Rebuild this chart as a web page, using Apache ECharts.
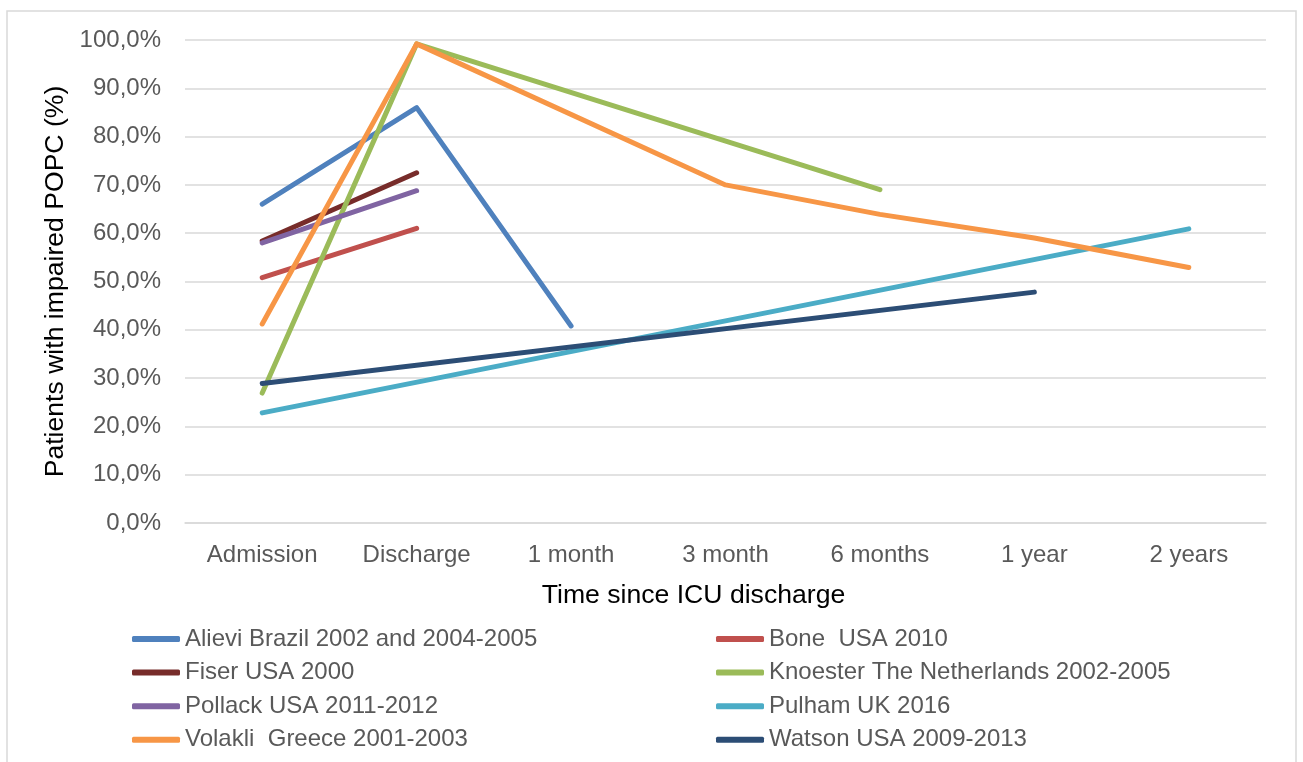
<!DOCTYPE html>
<html>
<head>
<meta charset="utf-8">
<script src="https://cdn.jsdelivr.net/npm/echarts@6/dist/echarts.min.js"></script>
<style>
html,body{margin:0;padding:0;background:#fff;}
#chart{width:1303px;height:762px;}
</style>
</head>
<body>
<div id="chart"></div>
<script>
var categories = ['Admission', 'Discharge', '1 month', '3 month', '6 months', '1 year', '2 years'];
var seriesNames = ['Alievi Brazil 2002 and 2004-2005', 'Bone  USA 2010', 'Fiser USA 2000', 'Knoester The Netherlands 2002-2005', 'Pollack USA 2011-2012', 'Pulham UK 2016', 'Volakli  Greece 2001-2003', 'Watson USA 2009-2013'];
var alievi   = [66.0, 86.0, 40.8, null, null, null, null];
var bone     = [50.8, 61.0, null, null, null, null, null];
var fiser    = [58.4, 72.5, null, null, null, null, null];
var knoester = [26.9, 99.2, null, null, 69.0, null, null];
var pollack  = [58.0, 68.8, null, null, null, null, null];
var pulham   = [22.8, null, null, null, null, null, 60.9];
var volakli  = [41.2, 99.2, null, 70.0, 63.9, 59.0, 52.9];
var watson   = [28.9, null, null, null, null, 47.8, null];
var seriesData = [alievi, bone, fiser, knoester, pollack, pulham, volakli, watson];
var colors = ['#4F81BD', '#C0504D', '#772C2A', '#9BBB59', '#8064A2', '#4BACC6', '#F79646', '#2C4D75'];

var font = '"Liberation Sans", Arial, Helvetica, sans-serif';
var chart = echarts.init(document.getElementById('chart'));

var series = seriesNames.map(function (n, i) {
  return {
    name: n,
    type: 'line',
    data: seriesData[i],
    connectNulls: true,
    symbol: 'none',
    color: colors[i],
    lineStyle: { width: 5, color: colors[i], cap: 'round', join: 'round' },
    z: 2 + i
  };
});

var legendBase = {
  orient: 'vertical',
  icon: 'roundRect',
  padding: 0,
  itemWidth: 48,
  itemHeight: 6,
  itemGap: 9.6,
  itemStyle: { borderWidth: 0 },
  textStyle: { fontFamily: font, fontSize: 24, color: '#595959', lineHeight: 24 }
};

chart.setOption({
  animation: false,
  textStyle: { fontFamily: font },
  graphic: [{
    type: 'rect',
    shape: { x: 7, y: 11, width: 1289, height: 800 },
    style: { fill: 'none', stroke: '#D9D9D9', lineWidth: 1.5 },
    silent: true
  }],
  grid: { left: 185, right: 37, top: 40, bottom: 239 },
  legend: [
    Object.assign({}, legendBase, { left: 132, top: 627, data: [seriesNames[0], seriesNames[2], seriesNames[4], seriesNames[6]] }),
    Object.assign({}, legendBase, { left: 716, top: 627, data: [seriesNames[1], seriesNames[3], seriesNames[5], seriesNames[7]] })
  ],
  xAxis: {
    type: 'category',
    data: categories,
    boundaryGap: true,
    name: 'Time since ICU discharge',
    nameLocation: 'middle',
    nameGap: 59,
    nameTextStyle: { fontFamily: font, fontSize: 26.6, color: '#000', padding: [0, 64, 0, 0] },
    axisLine: { show: true, lineStyle: { color: '#D9D9D9', width: 1.5 } },
    axisTick: { show: false },
    axisLabel: { fontFamily: font, fontSize: 24, color: '#595959', margin: 20 },
    splitLine: { show: false }
  },
  yAxis: {
    type: 'value',
    min: 0,
    max: 100,
    interval: 10,
    name: 'Patients with impaired POPC (%)',
    nameLocation: 'middle',
    nameGap: 111,
    nameTextStyle: { fontFamily: font, fontSize: 26.6, color: '#000' },
    axisLine: { show: false },
    axisTick: { show: false },
    axisLabel: {
      fontFamily: font, fontSize: 24, color: '#595959', margin: 24,
      formatter: function (v) { return v.toFixed(1).replace('.', ',') + '%'; }
    },
    splitLine: { show: true, lineStyle: { color: '#D9D9D9', width: 1.5 } }
  },
  series: series
});
</script>
</body>
</html>
